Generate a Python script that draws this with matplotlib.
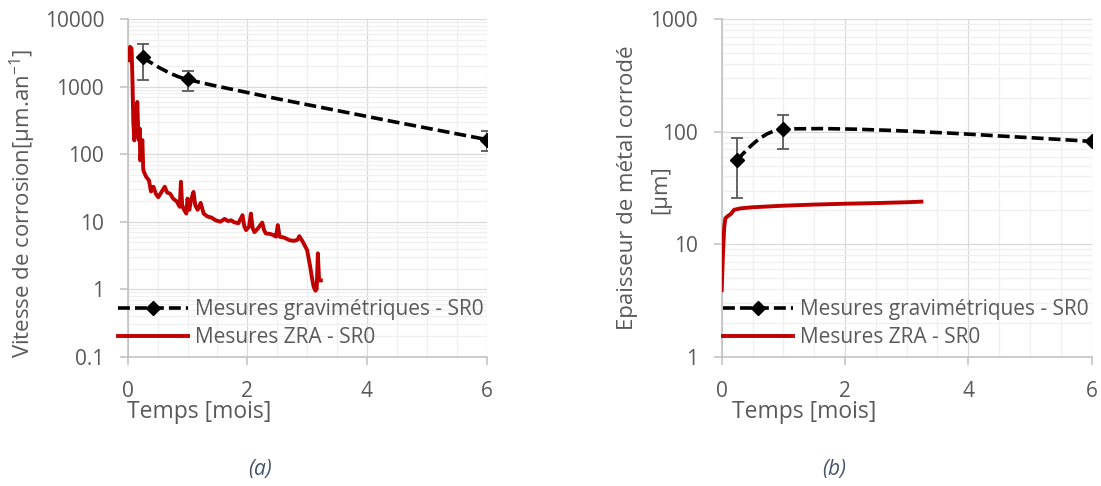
import numpy as np
import matplotlib
matplotlib.use("Agg")
import matplotlib.pyplot as plt
from matplotlib.path import Path
from matplotlib.patches import PathPatch
from matplotlib.lines import Line2D
from matplotlib.ticker import FixedLocator, MultipleLocator, NullFormatter, LogLocator

plt.rcParams['font.family'] = ['Open Sans', 'DejaVu Sans']
plt.rcParams['mathtext.fontset'] = 'custom'
plt.rcParams['mathtext.rm'] = 'Open Sans'

# ---------------- data ----------------
# panel (a): corrosion rate [µm/an]
grav_t = [0.25, 1.0, 6.0]
grav_rate = [2710, 1280, 165]
grav_rate_lo = [1250, 866, 112]
grav_rate_hi = [4220, 1700, 219]

zra_t = [0.01, 0.04, 0.065, 0.08, 0.094, 0.11, 0.13, 0.15, 0.16, 0.175, 0.19, 0.2, 0.21, 0.225,
         0.245, 0.26, 0.27, 0.31, 0.355, 0.39, 0.43, 0.47, 0.51, 0.56, 0.62, 0.66, 0.71, 0.76,
         0.82, 0.87, 0.89, 0.91, 0.93, 0.98, 1.0, 1.03, 1.06, 1.1, 1.13, 1.17, 1.22, 1.27,
         1.33, 1.4, 1.47, 1.55, 1.62, 1.68, 1.73, 1.78, 1.85, 1.92, 1.95, 1.98, 2.03, 2.06,
         2.09, 2.12, 2.18, 2.25, 2.28, 2.31, 2.38, 2.44, 2.48, 2.51, 2.54, 2.62, 2.71, 2.78,
         2.84, 2.87, 2.93, 3.0, 3.05, 3.08, 3.11, 3.14, 3.16, 3.18, 3.2, 3.23]
zra_rate = [2470, 3900, 3670, 1200, 300, 160, 200, 350, 595, 230, 160, 240, 81, 110,
            162, 60, 55, 46, 41, 28, 33, 26, 23, 27, 33, 27, 26, 22,
            20, 16.6, 39, 18, 15.7, 13.2, 22, 15, 21, 27.6, 17.5, 15, 19, 13.2,
            12, 11.5, 10.5, 10, 11, 10.2, 10.5, 9.8, 9.5, 12.5, 8.5, 7.5, 8.5, 13.2,
            8, 7.0, 8, 9.7, 7.5, 6.7, 6.6, 6.3, 6.0, 8.9, 6.0, 5.8, 5.3, 5.2,
            5.4, 6.1, 5.0, 3.8, 2.2, 1.5, 1.08, 0.95, 1.0, 3.4, 1.35, 1.35]

# panel (b): corroded thickness [µm]
grav_thick = [56, 105, 82]
grav_thick_lo = [25.6, 70, 82]
grav_thick_hi = [87.5, 141, 82]

zra_t_b = [0.0, 0.02, 0.04, 0.06, 0.1, 0.15, 0.2, 0.3, 0.5, 1.0, 1.5, 2.0, 2.5, 3.0, 3.24]
zra_thick = [3.9, 8.0, 14.0, 17.0, 17.8, 18.6, 20.2, 20.8, 21.3, 22.0, 22.5, 22.9, 23.2, 23.6, 23.9]

xticks = [0, 2, 4, 6]
yticks_a = [0.1, 1, 10, 100, 1000, 10000]
ytick_labels_a = ["0.1", "1", "10", "100", "1000", "10000"]
yticks_b = [1, 10, 100, 1000]
ytick_labels_b = ["1", "10", "100", "1000"]

label_grav = "Mesures gravimétriques - SR0"
label_zra = "Mesures ZRA - SR0"

# ---------------- style ----------------
W, H = 1101, 486
TXT = '#595959'
AXC = '#bfbfbf'
RED = '#c00000'
FS = 15
dash = (0, (3.3, 1.4))


def smooth_path(xs, ys, sx, sy):
    """Excel-like smoothed line; control points computed in screen-proportional space."""
    P = np.column_stack([np.asarray(xs, float) * sx, np.log10(np.asarray(ys, float)) * sy])
    n = len(P)
    T = [None] * n
    for i in range(1, n - 1):
        T[i] = (P[i + 1] - P[i - 1]) / 6.0
    verts = [P[0]]
    codes = [Path.MOVETO]
    for i in range(n - 1):
        a, b = P[i], P[i + 1]
        L = np.hypot(*(b - a))
        c1 = c2 = None
        if T[i] is not None:
            t = T[i]
            m = np.hypot(*t)
            c1 = a + t * min(1.0, (L / 3.0) / m)
        if T[i + 1] is not None:
            t = T[i + 1]
            m = np.hypot(*t)
            c2 = b - t * min(1.0, (L / 3.0) / m)
        if c1 is None and c2 is None:
            c1 = a + (b - a) / 3.0
            c2 = b - (b - a) / 3.0
        elif c1 is None:
            c1 = a + (c2 - a) / 2.0
        elif c2 is None:
            c2 = b + (c1 - b) / 2.0
        verts += [c1, c2, b]
        codes += [Path.CURVE4] * 3
    V = np.array(verts) / np.array([sx, sy])
    return Path(V, codes)


fig = plt.figure(figsize=(W / 100, H / 100), dpi=100)


def px_rect(x0, y0, x1, y1):
    return [x0 / W, 1 - y1 / H, (x1 - x0) / W, (y1 - y0) / H]


def setup(ax, ylim, yticks, ylabels):
    ax.set_yscale('log')
    ax.set_xlim(0, 6)
    ax.set_ylim(*ylim)
    ax.xaxis.set_major_locator(FixedLocator(xticks))
    ax.xaxis.set_minor_locator(MultipleLocator(0.5))
    ax.set_xticklabels([str(v) for v in xticks])
    ax.yaxis.set_major_locator(FixedLocator(yticks))
    ax.set_yticklabels(ylabels)
    ax.yaxis.set_minor_locator(LogLocator(base=10, subs=np.arange(2, 10)))
    ax.yaxis.set_minor_formatter(NullFormatter())
    ax.grid(which='major', color='#d9d9d9', lw=0.9)
    ax.grid(which='minor', color='#efefef', lw=0.9)
    ax.set_axisbelow(True)
    for s in ['top', 'right']:
        ax.spines[s].set_visible(False)
    for s in ['left', 'bottom']:
        ax.spines[s].set_color(AXC)
        ax.spines[s].set_linewidth(1.1)
    ax.tick_params(which='major', direction='out', length=5.5, width=1.1, color=AXC,
                   labelcolor=TXT, labelsize=FS)
    ax.tick_params(axis='y', which='major', pad=11.5)
    ax.tick_params(axis='x', which='major', pad=12)
    ax.tick_params(which='minor', length=0)


def draw(ax, gx, gy, glo, ghi, rx, ry, sx, sy):
    gy = np.asarray(gy, float)
    yerr = [gy - np.asarray(glo, float), np.asarray(ghi, float) - gy]
    ax.errorbar(gx, gy, yerr=yerr, fmt='none', ecolor=TXT, elinewidth=1.3,
                capsize=4.2, capthick=1.3, zorder=3)
    patch = PathPatch(smooth_path(gx, gy, sx, sy), fill=False, edgecolor='black', lw=2.6,
                      linestyle=dash, transform=ax.transLimits + ax.transAxes, zorder=4)
    ax.add_patch(patch)
    ax.plot(gx, gy, ls='none', marker='D', ms=6.8, color='black', zorder=5)
    ax.plot(rx, ry, color=RED, lw=2.8, zorder=4, solid_joinstyle='round')


def legend(ax, x_px, y_px):
    h1 = Line2D([], [], color='black', lw=2.6, ls=dash, marker='D', ms=6.8)
    h2 = Line2D([], [], color=RED, lw=2.8)
    ax.legend([h1, h2], [label_grav, label_zra], loc='center left',
              bbox_to_anchor=(x_px / W, 1 - y_px / H), bbox_transform=fig.transFigure,
              frameon=False, fontsize=FS, handlelength=3.35, handletextpad=0.33,
              labelspacing=0.35, borderpad=0, borderaxespad=0, numpoints=1,
              labelcolor=TXT)


# panel (a)
A = (127.7, 19.2, 486.5, 356.7)
axa = fig.add_axes(px_rect(*A))
setup(axa, (0.1, 10000), yticks_a, ytick_labels_a)
draw(axa, grav_t, grav_rate, grav_rate_lo, grav_rate_hi, zra_t, zra_rate,
     (A[2] - A[0]) / 6, (A[3] - A[1]) / 5)
legend(axa, 118, 323.5)

# panel (b)
B = (721.7, 19.2, 1091.5, 356.7)
axb = fig.add_axes(px_rect(*B))
setup(axb, (1, 1000), yticks_b, ytick_labels_b)
draw(axb, grav_t, grav_thick, grav_thick_lo, grav_thick_hi, zra_t_b, zra_thick,
     (B[2] - B[0]) / 6, (B[3] - B[1]) / 3)
legend(axb, 723, 323.5)

# axis labels
fig.text(23 / W, 1 - 203 / H, "Vitesse de corrosion[µm.an$^{\\mathregular{-1}}$]",
         rotation=90, ha='center', va='center', fontsize=16, color=TXT)
fig.text(628 / W, 1 - 188 / H, "Epaisseur de métal corrodé", rotation=90,
         ha='center', va='center', fontsize=16, color=TXT)
fig.text(661 / W, 1 - 190 / H, "[µm]", rotation=90,
         ha='center', va='center', fontsize=16, color=TXT)
fig.text(127 / W, 1 - 412 / H, "Temps [mois]", ha='left', va='center', fontsize=16.5, color=TXT)
fig.text(732 / W, 1 - 412 / H, "Temps [mois]", ha='left', va='center', fontsize=16.5, color=TXT)

# captions
fig.text(260 / W, 1 - 469 / H, "(a)", ha='center', va='center', fontsize=FS,
         style='italic', color='#44546a')
fig.text(834 / W, 1 - 469 / H, "(b)", ha='center', va='center', fontsize=FS,
         style='italic', color='#44546a')

fig.savefig("out.png", dpi=100)
